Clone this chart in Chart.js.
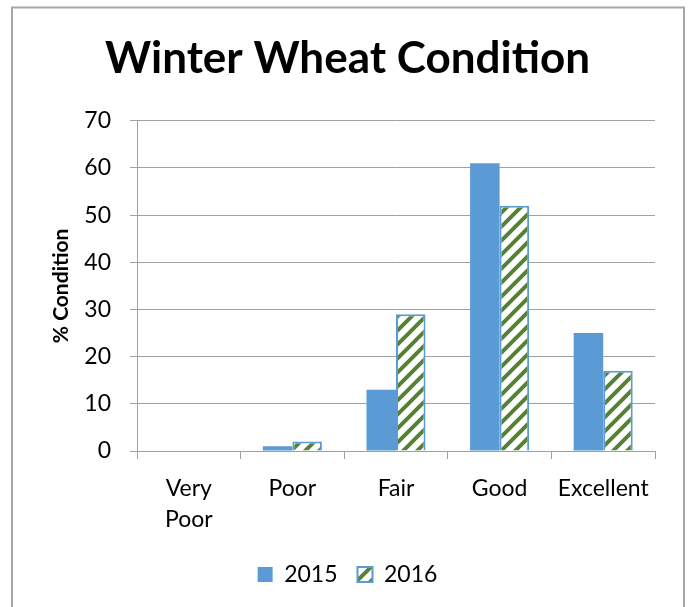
<!DOCTYPE html>
<html>
<head>
<meta charset="utf-8">
<style>
  html, body { margin: 0; padding: 0; background: #fff; }
  #wrap { width: 689px; height: 607px; }
</style>
<script src="https://cdn.jsdelivr.net/npm/chart.js@4.4.1/dist/chart.umd.min.js"></script>
</head>
<body>
<div id="wrap"><canvas id="wheatChart" width="689" height="607"></canvas></div>
<script>
const categories = [['Very', 'Poor'], 'Poor', 'Fair', 'Good', 'Excellent'];
const values2015 = [0, 1, 13, 61, 25];
const values2016 = [0, 2, 29, 52, 17];
const yTicks = [0, 10, 20, 30, 40, 50, 60, 70];

const BLUE = '#5b9bd5';
const GREEN = '#548235';
const GRID = '#a0a0a0';

// green "wide upward diagonal" hatch on white
function makeHatch() {
  const size = 14;
  const c = document.createElement('canvas');
  c.width = size;
  c.height = size;
  const g = c.getContext('2d');
  g.fillStyle = '#fff';
  g.fillRect(0, 0, size, size);
  g.strokeStyle = GREEN;
  g.lineWidth = 4;
  g.beginPath();
  g.moveTo(0, size); g.lineTo(size, 0);
  g.moveTo(-size / 2, size / 2); g.lineTo(size / 2, -size / 2);
  g.moveTo(size / 2, size * 1.5); g.lineTo(size * 1.5, size / 2);
  g.stroke();
  return g.createPattern(c, 'repeat');
}
const hatch = makeHatch();

// thin grey frame round the whole chart
const framePlugin = {
  id: 'frame',
  afterDraw(chart) {
    const ctx = chart.ctx;
    ctx.save();
    ctx.strokeStyle = '#a6a6a6';
    ctx.lineWidth = 2;
    ctx.strokeRect(12, 7.5, 672, 700);
    ctx.restore();
  }
};

Chart.defaults.font.family = 'Lato, "Open Sans", sans-serif';
Chart.defaults.color = '#000';

const ctx = document.getElementById('wheatChart').getContext('2d');
new Chart(ctx, {
  type: 'bar',
  data: {
    labels: categories,
    datasets: [
      {
        label: '2015',
        data: values2015,
        backgroundColor: BLUE,
        borderWidth: 0,
        categoryPercentage: 0.57,
        barPercentage: 1
      },
      {
        label: '2016',
        data: values2016,
        backgroundColor: hatch,
        borderColor: BLUE,
        borderWidth: 2,
        categoryPercentage: 0.57,
        barPercentage: 1
      }
    ]
  },
  options: {
    responsive: false,
    animation: false,
    layout: {
      padding: { left: 40, right: 34, top: 0, bottom: 11 }
    },
    plugins: {
      title: {
        display: true,
        text: 'Winter Wheat Condition',
        font: { size: 44, weight: 'bold' },
        color: '#000',
        padding: { top: 32, bottom: 36 }
      },
      legend: {
        position: 'bottom',
        labels: {
          boxWidth: 15,
          boxHeight: 15,
          padding: 20,
          font: { size: 23 }
        }
      },
      tooltip: { enabled: false }
    },
    scales: {
      x: {
        grid: {
          offset: true,
          drawOnChartArea: false,
          color: GRID,
          tickLength: 8
        },
        border: { color: GRID, width: 1 },
        ticks: {
          font: { size: 23, lineHeight: 1.35 },
          padding: 14,
          maxRotation: 0
        },
        afterFit: scale => { scale.height = 92; }
      },
      y: {
        min: 0,
        max: 70,
        afterBuildTicks: scale => {
          scale.ticks = yTicks.map(v => ({ value: v }));
        },
        grid: {
          color: GRID,
          tickLength: 7
        },
        border: { color: GRID, width: 1 },
        ticks: {
          font: { size: 23 },
          padding: 19
        },
        title: {
          display: true,
          text: '% Condition',
          font: { size: 21, weight: 'bold' },
          padding: { top: 9, bottom: 0 }
        },
        afterFit: scale => { scale.width = 97; }
      }
    }
  },
  plugins: [framePlugin]
});
</script>
</body>
</html>
